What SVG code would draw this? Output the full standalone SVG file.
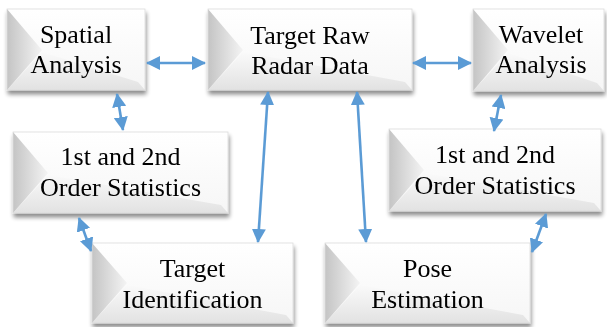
<svg xmlns="http://www.w3.org/2000/svg" width="607" height="327" viewBox="0 0 607 327">
<defs>
<style>
.face{fill:url(#faceG);}
.lf{fill:url(#leftG);}
.bf{fill:url(#botG);}
.box{filter:url(#sh);}
.t{font-family:"Liberation Serif","Times New Roman",serif;font-size:26px;fill:#000;text-anchor:middle;}
.c{stroke:#5B9BD5;stroke-width:2.6;fill:none;marker-start:url(#ah);marker-end:url(#ah);}
</style>
<linearGradient id="faceG" x1="0" y1="0" x2="0" y2="1">
<stop offset="0" stop-color="#ffffff"/><stop offset="1" stop-color="#f6f6f6"/>
</linearGradient>
<linearGradient id="leftG" x1="0" y1="0" x2="1" y2="0">
<stop offset="0" stop-color="#c4c4c4"/><stop offset="1" stop-color="#f4f4f4"/>
</linearGradient>
<linearGradient id="botG" x1="0" y1="0" x2="0" y2="1">
<stop offset="0" stop-color="#fafafa"/><stop offset="1" stop-color="#e2e2e2"/>
</linearGradient>
<filter id="sh" x="-10%" y="-10%" width="125%" height="130%">
<feGaussianBlur in="SourceAlpha" stdDeviation="2"/>
<feOffset dx="1" dy="4" result="b"/>
<feComponentTransfer><feFuncA type="linear" slope="0.45"/></feComponentTransfer>
<feMerge><feMergeNode/><feMergeNode in="SourceGraphic"/></feMerge>
</filter>
<marker id="ah" viewBox="0 0 14 14" refX="13" refY="7" markerWidth="14" markerHeight="14" markerUnits="userSpaceOnUse" orient="auto-start-reverse">
<path d="M0,0 L14,7 L0,14 Z" fill="#5B9BD5"/>
</marker>
</defs>
<rect width="607" height="327" fill="#ffffff"/>

<g id="spatial" class="box">
<rect x="7" y="9" width="138" height="81" class="face"/>
<polygon points="7,90 42,52 138,82 145,90" class="bf"/>
<polygon points="7,9 42,50 7,90" class="lf"/>
<rect x="7" y="9" width="138" height="81" fill="none" stroke="#dcdcdc" stroke-width="0.8"/>
<text class="t" x="76" y="43">Spatial</text>
<text class="t" x="76" y="73">Analysis</text>
</g>

<g id="rawdata" class="box">
<rect x="208" y="9" width="204" height="81" class="face"/>
<polygon points="208,90 243,52 405,82 412,90" class="bf"/>
<polygon points="208,9 243,50 208,90" class="lf"/>
<rect x="208" y="9" width="204" height="81" fill="none" stroke="#dcdcdc" stroke-width="0.8"/>
<text class="t" x="310" y="44">Target Raw</text>
<text class="t" x="310" y="74">Radar Data</text>
</g>

<g id="wavelet" class="box">
<rect x="473" y="9" width="131" height="82" class="face"/>
<polygon points="473,91 508,53 597,83 604,91" class="bf"/>
<polygon points="473,9 508,50 473,91" class="lf"/>
<rect x="473" y="9" width="131" height="82" fill="none" stroke="#dcdcdc" stroke-width="0.8"/>
<text class="t" x="541" y="43">Wavelet</text>
<text class="t" x="541" y="73">Analysis</text>
</g>

<g id="stats-left" class="box">
<rect x="13" y="132" width="215" height="81" class="face"/>
<polygon points="13,213 48,175 221,205 228,213" class="bf"/>
<polygon points="13,132 48,173 13,213" class="lf"/>
<rect x="13" y="132" width="215" height="81" fill="none" stroke="#dcdcdc" stroke-width="0.8"/>
<text class="t" x="120.5" y="165">1st and 2nd</text>
<text class="t" x="120.5" y="196">Order Statistics</text>
</g>

<g id="stats-right" class="box">
<rect x="389" y="129" width="212" height="82" class="face"/>
<polygon points="389,211 424,173 594,203 601,211" class="bf"/>
<polygon points="389,129 424,170 389,211" class="lf"/>
<rect x="389" y="129" width="212" height="82" fill="none" stroke="#dcdcdc" stroke-width="0.8"/>
<text class="t" x="495" y="163">1st and 2nd</text>
<text class="t" x="495" y="194">Order Statistics</text>
</g>

<g id="target-id" class="box">
<rect x="92" y="243" width="201" height="80" class="face"/>
<polygon points="92,323 127,285 286,315 293,323" class="bf"/>
<polygon points="92,243 127,283 92,323" class="lf"/>
<rect x="92" y="243" width="201" height="80" fill="none" stroke="#dcdcdc" stroke-width="0.8"/>
<text class="t" x="192.5" y="277">Target</text>
<text class="t" x="192.5" y="308">Identification</text>
</g>

<g id="pose" class="box">
<rect x="325" y="243" width="205" height="80" class="face"/>
<polygon points="325,323 360,285 523,315 530,323" class="bf"/>
<polygon points="325,243 360,283 325,323" class="lf"/>
<rect x="325" y="243" width="205" height="80" fill="none" stroke="#dcdcdc" stroke-width="0.8"/>
<text class="t" x="427.5" y="277">Pose</text>
<text class="t" x="427.5" y="308">Estimation</text>
</g>

<g id="connectors">
<line class="c" x1="147" y1="63" x2="205" y2="63"/>
<line class="c" x1="413" y1="63" x2="471" y2="63"/>
<line class="c" x1="117" y1="94" x2="123" y2="130"/>
<line class="c" x1="268" y1="92" x2="258" y2="242"/>
<line class="c" x1="357" y1="92" x2="366" y2="242"/>
<line class="c" x1="501" y1="95" x2="494" y2="131"/>
<line class="c" x1="79" y1="218" x2="91" y2="251"/>
<line class="c" x1="546" y1="214" x2="532" y2="252"/>
</g>
</svg>
